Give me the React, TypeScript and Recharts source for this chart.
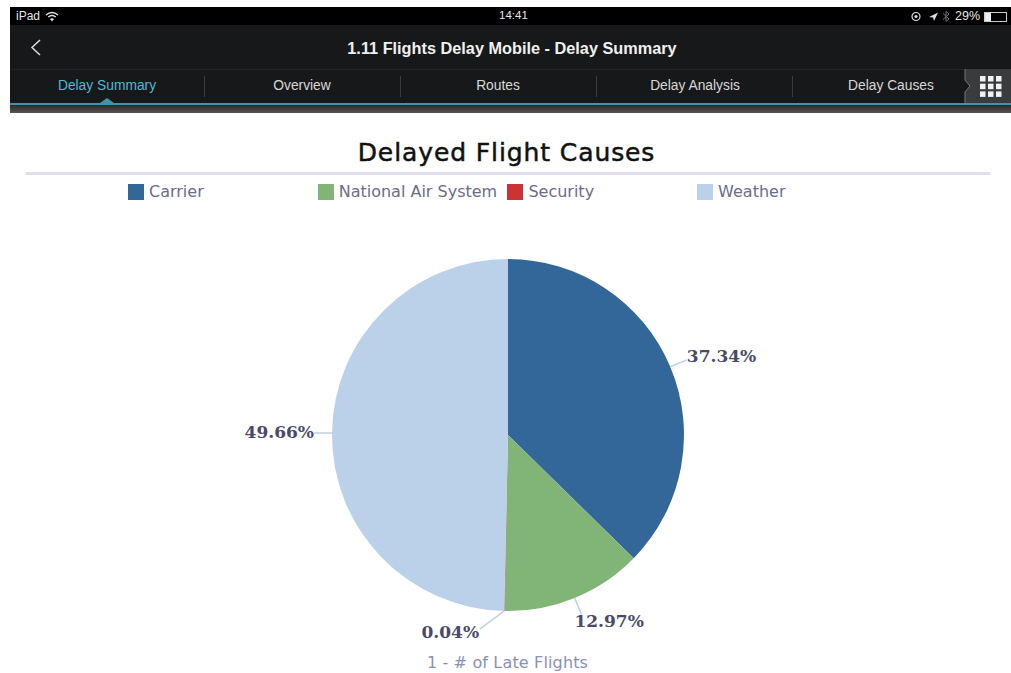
import { Legend, Pie, PieChart } from 'recharts';

const causes = ['Carrier', 'National Air System', 'Security', 'Weather'];
const shares = [37.34, 12.97, 0.04, 49.66];
const colors = ['#336699', '#80b577', '#cc3333', '#bbd0e9'];
const tabs = ['Delay Summary', 'Overview', 'Routes', 'Delay Analysis', 'Delay Causes'];

const data = causes.map((name, i) => ({ name, value: shares[i], fill: colors[i] }));

const RADIAN = Math.PI / 180;
const uiFont = '"Liberation Sans", Arial, sans-serif';
const chartFont = '"DejaVu Sans", sans-serif';

// nudges for the label text and the end of the leader line, per slice
const labelStyle = [
  { dx: 0, dy: 2, anchor: 'start', lineDx: 0, lineDy: 0 },
  { dx: -7, dy: 12, anchor: 'start', lineDx: 0, lineDy: 0 },
  { dx: -1, dy: 9, anchor: 'end', lineDx: -24, lineDy: 0 },
  { dx: 0, dy: 5, anchor: 'end', lineDx: 0, lineDy: 0 },
];

function SliceLabel(props: any) {
  const { cx, cy, midAngle, outerRadius, value, index } = props;
  const s = labelStyle[index];
  const cos = Math.cos(midAngle * RADIAN);
  const sin = Math.sin(midAngle * RADIAN);
  const x1 = cx + outerRadius * cos;
  const y1 = cy - outerRadius * sin;
  const x2 = cx + (outerRadius + 18) * cos + s.lineDx;
  const y2 = cy - (outerRadius + 18) * sin;
  return (
    <g>
      <line x1={x1} y1={y1} x2={x2} y2={y2} stroke="#c3cfe6" strokeWidth={1.5} />
      <text
        x={x2 + s.dx}
        y={y2 + s.dy}
        textAnchor={s.anchor}
        fontFamily='"DejaVu Serif", serif'
        fontWeight="bold"
        fontSize={17}
        fill="#4a4a68"
      >
        {value.toFixed(2)}%
      </text>
    </g>
  );
}

function LegendRow({ payload }: any) {
  return (
    <div style={{ position: 'relative', height: 20 }}>
      {(payload ?? []).map((item: any, i: number) => (
        <div
          key={item.value}
          style={{
            position: 'absolute',
            left: 128 + i * 189.7,
            top: 0,
            display: 'flex',
            alignItems: 'center',
            whiteSpace: 'nowrap',
          }}
        >
          <span style={{ width: 16, height: 16, background: colors[i], marginRight: 5 }} />
          <span style={{ fontFamily: chartFont, fontSize: 16, color: '#6c6c88' }}>{item.value}</span>
        </div>
      ))}
    </div>
  );
}

function Header() {
  const tabCenters = [107, 302, 498, 695, 891];
  return (
    <div
      style={{
        position: 'absolute',
        left: 10,
        top: 7,
        width: 1001,
        height: 106,
        fontFamily: uiFont,
        color: '#e6e6e6',
        background: '#171819',
        overflow: 'hidden',
      }}
    >
      <div style={{ position: 'absolute', left: 0, top: 0, width: 1001, height: 18, background: '#000' }} />
      <span style={{ position: 'absolute', left: 6, top: 2, fontSize: 12 }}>iPad</span>
      <svg style={{ position: 'absolute', left: 35, top: 4 }} width={14} height={11} viewBox="0 0 14 11">
        <path d="M1 4 Q7 -1 13 4 M3.2 6 Q7 3 10.8 6" fill="none" stroke="#e6e6e6" strokeWidth={1.4} />
        <path d="M5 8 Q7 6.4 9 8 L7 10.4 Z" fill="#e6e6e6" />
      </svg>
      <span style={{ position: 'absolute', left: 489, top: 2, fontSize: 11.5 }}>14:41</span>
      <svg style={{ position: 'absolute', left: 900, top: 3 }} width={42} height={13} viewBox="0 0 42 13">
        <circle cx={6} cy={6.5} r={4} fill="none" stroke="#ddd" strokeWidth={1.2} />
        <circle cx={6} cy={6.5} r={1.6} fill="#ddd" />
        <path d="M19 7 L28 2.5 L24 11 L23 7.5 Z" fill="#ddd" />
        <path d="M33 3.5 L39 9 L36 11.5 L36 1.5 L39 4 L33 9.5" fill="none" stroke="#777" strokeWidth={1} />
      </svg>
      <span style={{ position: 'absolute', left: 945, top: 2, fontSize: 12.5 }}>29%</span>
      <div style={{ position: 'absolute', left: 974, top: 5, width: 21, height: 8, border: '1px solid #ccc' }}>
        <div style={{ width: 6, height: 8, background: '#eee' }} />
      </div>

      <svg style={{ position: 'absolute', left: 19, top: 32 }} width={14} height={17} viewBox="0 0 14 17">
        <path d="M11 1 L3 8.5 L11 16" fill="none" stroke="#ddd" strokeWidth={1.5} />
      </svg>
      <div
        style={{
          position: 'absolute',
          left: 0,
          top: 32,
          width: 1004,
          textAlign: 'center',
          fontSize: 16.3,
          fontWeight: 'bold',
          color: '#f0f0f0',
        }}
      >
        1.11 Flights Delay Mobile - Delay Summary
      </div>

      <div style={{ position: 'absolute', left: 0, top: 62, width: 1001, height: 1, background: '#222324' }} />
      {tabs.map((tab, i) => (
        <div
          key={tab}
          style={{
            position: 'absolute',
            left: tabCenters[i] - 10 - 90,
            top: 71,
            width: 180,
            textAlign: 'center',
            fontSize: 13.8,
            color: i === 0 ? '#4fb9d6' : '#d8d8d8',
          }}
        >
          {tab}
        </div>
      ))}
      {[194, 390, 586, 782].map((x) => (
        <div key={x} style={{ position: 'absolute', left: x, top: 69, width: 1, height: 21, background: '#3c3d3e' }} />
      ))}
      <div style={{ position: 'absolute', left: 955, top: 62, width: 46, height: 34, background: '#3a3b3c' }} />
      <svg style={{ position: 'absolute', left: 953, top: 62 }} width={48} height={34} viewBox="0 0 48 34">
        <path d="M2 0 L2 11 L7 17 L2 23 L2 34" fill="#171819" stroke="#777" strokeWidth={1} />
        {[0, 1, 2].map((r) =>
          [0, 1, 2].map((c) => (
            <rect key={`${r}-${c}`} x={17 + c * 8} y={7 + r * 7.7} width={5.5} height={5.5} fill="#f2f2f2" />
          )),
        )}
      </svg>
      <svg style={{ position: 'absolute', left: 88, top: 90 }} width={18} height={7} viewBox="0 0 18 7">
        <path d="M2 6 L9 1 L16 6 Z" fill="#3f94ab" />
      </svg>
      <div style={{ position: 'absolute', left: 0, top: 96, width: 1001, height: 2, background: '#3f94ab' }} />
      <div
        style={{
          position: 'absolute',
          left: 0,
          top: 98,
          width: 1001,
          height: 8,
          background: 'linear-gradient(#2a2a2a, #555)',
        }}
      />
    </div>
  );
}

export default function App() {
  return (
    <div style={{ position: 'absolute', left: 0, top: 0, width: 1011, height: 673, background: '#fff', overflow: 'hidden' }}>
      <Header />
      <div
        style={{
          position: 'absolute',
          left: 0,
          top: 138,
          width: 1013,
          textAlign: 'center',
          fontFamily: chartFont,
          fontSize: 25,
          letterSpacing: 0.9,
          color: '#111',
          WebkitTextStroke: '0.5px #111',
        }}
      >
        Delayed Flight Causes
      </div>
      <div style={{ position: 'absolute', left: 26, top: 172, width: 964, height: 3, background: '#dfdfec' }} />
      <div style={{ position: 'absolute', left: 0, top: 0 }}>
        <PieChart width={1011} height={673} margin={{ top: 0, right: 0, bottom: 0, left: 0 }}>
          <Legend content={<LegendRow />} wrapperStyle={{ left: 0, top: 182, width: 1011 }} />
          <Pie
            data={data}
            dataKey="value"
            nameKey="name"
            cx={508}
            cy={435}
            outerRadius={176}
            startAngle={90}
            endAngle={-270}
            stroke="none"
            label={SliceLabel}
            labelLine={false}
            legendType="rect"
            isAnimationActive={false}
          />
        </PieChart>
      </div>
      <div
        style={{
          position: 'absolute',
          left: 0,
          top: 653,
          width: 1015,
          textAlign: 'center',
          fontFamily: chartFont,
          fontSize: 16,
          letterSpacing: 0.15,
          color: '#8a8fb8',
        }}
      >
        1 - # of Late Flights
      </div>
    </div>
  );
}
